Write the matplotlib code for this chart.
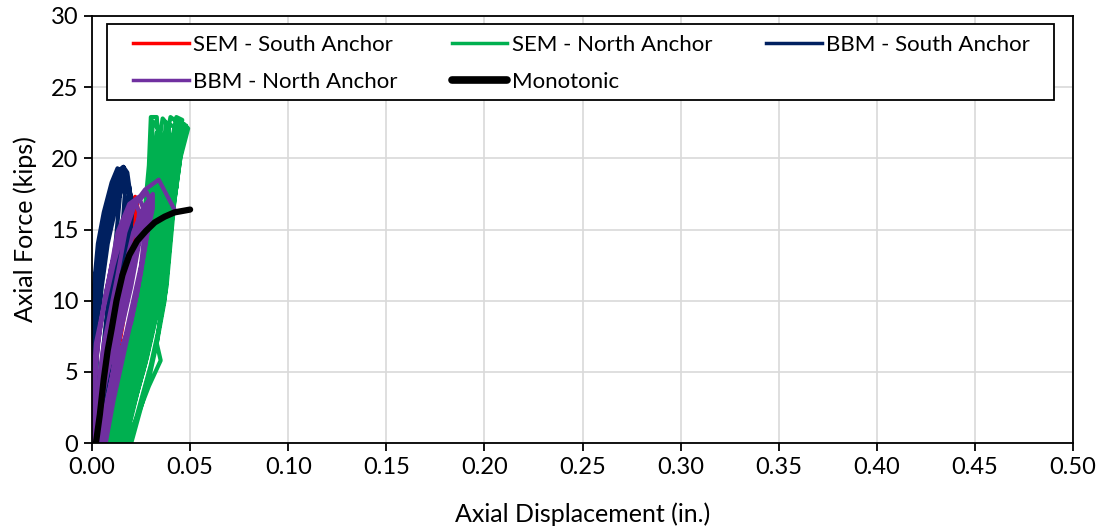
import matplotlib
matplotlib.use("Agg")
import matplotlib.pyplot as plt
from matplotlib.patches import Rectangle
from matplotlib.ticker import MultipleLocator, FormatStrFormatter

plt.rcParams["font.family"] = ["Lato", "DejaVu Sans"]

# ---- data (in., kips) ----
sem_south_x = [0.002, 0.006, 0.012, 0.018, 0.022, 0.024, 0.020, 0.014, 0.009, 0.007,
               0.010, 0.016, 0.021, 0.023, 0.019, 0.012, 0.008]
sem_south_y = [0.0, 6.0, 11.0, 15.0, 17.3, 16.0, 12.0, 7.0, 2.0, 0.0,
               4.0, 10.0, 14.5, 16.8, 13.0, 6.0, 0.0]

sem_north_x = [0.008, 0.011, 0.014, 0.020, 0.025, 0.028, 0.028, 0.030, 0.031,
               0.034, 0.036, 0.033, 0.031, 0.028, 0.024, 0.019, 0.015, 0.011,
               0.010, 0.013, 0.017, 0.022, 0.027, 0.030, 0.031, 0.033, 0.036,
               0.039, 0.040, 0.037, 0.035, 0.032, 0.028, 0.024, 0.019, 0.014,
               0.012, 0.015, 0.020, 0.025, 0.030, 0.033, 0.035, 0.036, 0.040,
               0.044, 0.043, 0.041, 0.038, 0.036, 0.031, 0.027, 0.022, 0.016,
               0.014, 0.018, 0.023, 0.027, 0.032, 0.035, 0.038, 0.040, 0.045,
               0.049, 0.045, 0.042, 0.040, 0.038, 0.034, 0.030, 0.025, 0.019,
               0.011, 0.014, 0.018, 0.023, 0.029, 0.031, 0.033, 0.038, 0.047,
               0.046, 0.044, 0.040, 0.036, 0.033, 0.035, 0.029, 0.022, 0.018,
               0.009, 0.012, 0.016, 0.021, 0.026, 0.029, 0.029, 0.031, 0.033,
               0.038, 0.038, 0.035, 0.033, 0.030, 0.026, 0.021, 0.017, 0.013,
               0.013, 0.017, 0.021, 0.026, 0.031, 0.034, 0.036, 0.039, 0.043,
               0.046, 0.044, 0.043, 0.039, 0.038, 0.033, 0.028, 0.023, 0.017,
               0.010, 0.014, 0.019, 0.024, 0.028, 0.032, 0.033, 0.035, 0.038,
               0.042, 0.041, 0.039, 0.036, 0.034, 0.030, 0.026, 0.020, 0.015,
               0.016, 0.021, 0.026, 0.030, 0.034, 0.037, 0.040, 0.042, 0.048,
               0.047, 0.043, 0.041, 0.039, 0.037, 0.033, 0.029, 0.024, 0.020,
               0.007, 0.010, 0.013, 0.018, 0.023, 0.027, 0.027, 0.029, 0.030,
               0.033, 0.034, 0.032, 0.030, 0.027, 0.022, 0.017, 0.013, 0.009]
sem_north_y = [0.0, 3.0, 5.5, 8.0, 11.0, 14.0, 17.0, 20.0, 22.6,
               22.0, 20.0, 17.0, 14.0, 11.0, 8.0, 5.5, 3.0, 0.0,
               0.0, 3.0, 5.5, 8.0, 11.0, 14.0, 17.0, 20.0, 22.8,
               22.3, 20.0, 17.0, 14.0, 11.0, 8.0, 5.5, 3.0, 0.0,
               0.0, 3.0, 5.5, 8.0, 11.0, 14.0, 17.0, 20.0, 22.9,
               22.5, 20.0, 17.0, 14.0, 11.0, 8.0, 5.5, 3.0, 0.0,
               0.0, 3.0, 5.5, 8.0, 11.0, 14.0, 17.0, 20.0, 22.6,
               22.1, 20.0, 17.0, 14.0, 11.0, 8.0, 5.5, 3.0, 0.0,
               0.0, 3.0, 5.5, 8.0, 11.0, 14.0, 17.0, 20.0, 22.4,
               21.0, 19.0, 15.0, 10.0, 7.0, 5.8, 4.0, 1.5, 0.0,
               0.0, 3.0, 5.5, 8.0, 11.0, 14.0, 17.0, 20.0, 21.8,
               21.5, 19.0, 16.0, 13.0, 10.0, 7.0, 4.5, 2.0, 0.0,
               0.0, 3.0, 5.5, 8.0, 11.0, 14.0, 17.0, 20.0, 22.9,
               22.7, 21.0, 18.0, 15.0, 12.0, 9.0, 6.0, 3.5, 0.0,
               0.0, 3.0, 5.5, 8.0, 11.0, 14.0, 17.0, 20.0, 22.5,
               22.2, 20.0, 17.0, 14.0, 11.0, 8.0, 5.5, 3.0, 0.0,
               0.0, 3.0, 5.5, 8.0, 11.0, 14.0, 17.0, 20.0, 22.3,
               21.5, 19.0, 16.0, 13.0, 10.0, 7.0, 4.5, 2.0, 0.0,
               0.0, 2.5, 5.0, 7.5, 10.5, 13.5, 16.5, 19.5, 22.9,
               22.9, 21.0, 18.0, 15.0, 12.0, 9.0, 6.0, 3.0, 0.0]

bbm_south_x = [0.000, 0.000, 0.001, 0.001, 0.002, 0.005, 0.009, 0.014,
               0.016, 0.017, 0.016, 0.013, 0.010, 0.007, 0.004, 0.003,
               0.001, 0.001, 0.002, 0.003, 0.004, 0.007, 0.011, 0.016,
               0.018, 0.020, 0.018, 0.015, 0.012, 0.009, 0.006, 0.004,
               0.002, 0.000, 0.001, 0.002, 0.003, 0.006, 0.010, 0.013,
               0.017, 0.021, 0.019, 0.016, 0.013, 0.010, 0.007, 0.005,
               0.001, 0.001, 0.002, 0.004, 0.007, 0.010, 0.015,
               0.019, 0.020, 0.017, 0.014, 0.011, 0.008, 0.006,
               0.000, 0.000, 0.000, 0.001, 0.003, 0.006, 0.010, 0.013,
               0.015, 0.014, 0.012, 0.009, 0.006, 0.003, 0.002,
               0.001, 0.002, 0.003, 0.005, 0.008, 0.012, 0.017,
               0.020, 0.019, 0.016, 0.013, 0.010, 0.007, 0.005,
               0.000, 0.001, 0.002, 0.004, 0.006, 0.008, 0.010, 0.012,
               0.015, 0.019, 0.017, 0.014, 0.011, 0.008, 0.005, 0.003]
bbm_south_y = [0.0, 3.0, 6.0, 9.0, 12.0, 15.0, 17.0, 19.2,
               19.4, 18.0, 16.0, 13.0, 10.0, 6.0, 3.0, 0.0,
               0.0, 3.0, 6.0, 9.0, 12.0, 15.0, 17.5, 19.4,
               19.0, 17.0, 15.0, 12.0, 9.0, 6.0, 3.0, 0.0,
               0.0, 4.0, 7.0, 10.0, 13.0, 15.5, 17.3, 18.5,
               18.2, 16.8, 14.5, 11.5, 8.5, 5.5, 2.5, 0.0,
               0.0, 5.0, 8.0, 11.5, 14.5, 16.5, 18.8,
               18.0, 15.5, 13.0, 10.0, 7.0, 4.0, 0.0,
               0.0, 4.0, 8.0, 11.0, 14.0, 16.2, 18.3, 19.3,
               19.0, 17.0, 14.0, 11.0, 7.0, 3.0, 0.0,
               0.0, 4.0, 8.0, 11.0, 14.0, 16.5, 18.6,
               17.3, 15.5, 12.5, 9.5, 6.0, 2.5, 0.0,
               0.0, 5.0, 9.0, 12.5, 15.0, 16.0, 17.2, 18.0,
               18.7, 17.5, 15.8, 13.0, 9.5, 6.0, 3.0, 0.0]

bbm_north_x = [0.001, 0.001, 0.001, 0.002, 0.004, 0.009, 0.013, 0.019, 0.024,
               0.026, 0.024, 0.020, 0.015, 0.012, 0.008, 0.005,
               0.002, 0.003, 0.004, 0.006, 0.008, 0.013, 0.017, 0.022, 0.028,
               0.030, 0.027, 0.024, 0.019, 0.015, 0.011, 0.007, 0.006,
               0.000, 0.002, 0.005, 0.008, 0.011, 0.016, 0.021, 0.026, 0.031,
               0.031, 0.028, 0.025, 0.020, 0.016, 0.013, 0.009, 0.006,
               0.001, 0.004, 0.007, 0.010, 0.013, 0.018, 0.024, 0.029,
               0.027, 0.025, 0.021, 0.017, 0.012, 0.008, 0.005,
               0.002, 0.005, 0.008, 0.012, 0.015, 0.020, 0.025, 0.030,
               0.029, 0.026, 0.023, 0.019, 0.015, 0.011, 0.007,
               0.000, 0.001, 0.002, 0.004, 0.007, 0.010, 0.014, 0.018, 0.022,
               0.024, 0.022, 0.018, 0.014, 0.010, 0.006, 0.004,
               0.000, 0.001, 0.003, 0.006, 0.011, 0.016, 0.020, 0.027, 0.034, 0.042]
bbm_north_y = [0.0, 3.0, 5.0, 7.0, 8.3, 11.8, 14.8, 16.8, 17.3,
               16.5, 14.0, 11.0, 8.0, 6.0, 3.0, 0.0,
               0.0, 3.0, 5.0, 7.0, 8.3, 11.8, 14.8, 16.8, 17.6,
               16.8, 14.0, 11.5, 8.3, 6.5, 4.0, 1.5, 0.0,
               0.0, 3.0, 5.0, 7.0, 8.3, 11.8, 14.8, 16.5, 17.5,
               16.5, 14.5, 12.0, 8.5, 7.0, 5.0, 2.5, 0.0,
               0.0, 3.0, 5.0, 7.0, 8.5, 11.8, 14.8, 16.8,
               15.0, 12.5, 10.0, 7.5, 5.0, 2.5, 0.0,
               0.0, 3.0, 5.0, 7.0, 8.5, 11.8, 14.8, 17.0,
               15.5, 13.0, 10.5, 8.0, 5.5, 3.0, 0.0,
               0.0, 3.0, 5.5, 8.0, 10.5, 12.5, 14.5, 16.0, 17.0,
               16.2, 13.5, 10.5, 7.5, 4.5, 2.0, 0.0,
               0.0, 4.0, 7.0, 9.5, 12.5, 15.0, 16.5, 17.8, 18.5, 16.4]

mono_x = [0.002, 0.004, 0.006, 0.008, 0.010, 0.0125, 0.0155, 0.019, 0.023, 0.0275,
          0.032, 0.037, 0.042, 0.046, 0.050]
mono_y = [0.0, 2.0, 4.5, 6.5, 8.0, 10.0, 11.8, 13.2, 14.2, 14.9,
          15.5, 15.9, 16.2, 16.3, 16.4]

fig = plt.figure(figsize=(11.03, 5.29), dpi=100)
ax = fig.add_axes([92 / 1103, 1 - 443 / 529, (1073 - 92) / 1103, (443 - 16) / 529])

lw = 3
h_ss, = ax.plot(sem_south_x, sem_south_y, color="#ff0000", lw=lw, label="SEM - South Anchor")
h_sn, = ax.plot(sem_north_x, sem_north_y, color="#00b050", lw=lw, label="SEM - North Anchor")
h_bs, = ax.plot(bbm_south_x, bbm_south_y, color="#002060", lw=lw, label="BBM - South Anchor")
h_bn, = ax.plot(bbm_north_x, bbm_north_y, color="#7030a0", lw=lw, label="BBM - North Anchor")
h_m, = ax.plot(mono_x, mono_y, color="black", lw=4.5, solid_capstyle="round", label="Monotonic")

ax.set_xlim(0, 0.5)
ax.set_ylim(0, 30)
ax.xaxis.set_major_locator(MultipleLocator(0.05))
ax.yaxis.set_major_locator(MultipleLocator(5))
ax.xaxis.set_major_formatter(FormatStrFormatter("%.2f"))
ax.grid(True, color="#d9d9d9", lw=1.2)
ax.set_axisbelow(True)
for s in ax.spines.values():
    s.set_color("black")
    s.set_linewidth(1.3)
ax.tick_params(direction="out", length=6, width=1.3, labelsize=17, colors="black", pad=4)
ax.set_xlabel("Axial Displacement (in.)", fontsize=18, labelpad=18)
ax.set_ylabel("Axial Force (kips)", fontsize=18, labelpad=10)

# legend box drawn separately, entries laid out row-wise like the original
ax.add_patch(Rectangle((15 / 981, (443 - 100) / 427), 947 / 981, 76 / 427,
                       transform=ax.transAxes, facecolor="white", edgecolor="black",
                       lw=1.3, zorder=5))
order = [h_ss, h_bn, h_sn, h_m, h_bs]
leg = ax.legend(order, [h.get_label() for h in order], loc="upper left",
                bbox_to_anchor=(41 / 981, (443 - 97) / 427, (1030 - 133) / 981, 62 / 427),
                mode="expand", ncol=3, fontsize=16, frameon=False,
                handlelength=2.5, handletextpad=0.2, borderaxespad=0, borderpad=0,
                labelspacing=0.75)
leg.set_zorder(6)
for line in leg.get_lines():
    line.set_linewidth(2.5)
leg.get_lines()[3].set_linewidth(5.5)

fig.savefig("out.png", dpi=100)
